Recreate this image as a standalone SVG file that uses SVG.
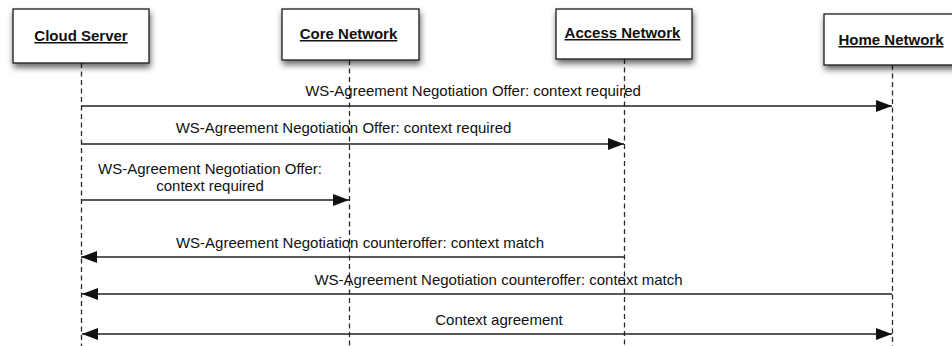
<svg xmlns="http://www.w3.org/2000/svg" width="952" height="346" viewBox="0 0 952 346">
  <style>
    .box { fill: #ffffff; stroke: #1a1a1a; stroke-width: 1.3; }
    .title { font-family: "Liberation Sans", Arial, sans-serif; font-size: 15px; font-weight: bold; text-decoration: underline; fill: #111111; text-anchor: middle; }
    .life { stroke: #2a2a2a; stroke-width: 1.3; stroke-dasharray: 5 3.5; fill: none; }
    .msg { stroke: #222222; stroke-width: 1.3; fill: none; }
    .label { font-family: "Liberation Sans", Arial, sans-serif; font-size: 15px; fill: #111111; text-anchor: middle; }
  </style>
  <defs>
    <filter id="shadow" x="-20%" y="-30%" width="140%" height="170%">
      <feGaussianBlur in="SourceAlpha" stdDeviation="3"/>
      <feOffset dx="1" dy="4" result="blurred"/>
      <feComponentTransfer>
        <feFuncA type="linear" slope="0.6"/>
      </feComponentTransfer>
      <feMerge>
        <feMergeNode/>
        <feMergeNode in="SourceGraphic"/>
      </feMerge>
    </filter>
    <marker id="head" viewBox="0 0 16 12" refX="16" refY="6" markerWidth="16" markerHeight="12" markerUnits="userSpaceOnUse" orient="auto-start-reverse">
      <path d="M0,0 L16,6 L0,12 z" fill="#111111"/>
    </marker>
  </defs>

  <rect width="952" height="346" fill="#ffffff"/>

  <!-- lifelines -->
  <g id="lifelines">
    <line class="life" x1="81.5" y1="63" x2="81.5" y2="346"/>
    <line class="life" x1="349.5" y1="60" x2="349.5" y2="346"/>
    <line class="life" x1="624.5" y1="59" x2="624.5" y2="346"/>
    <line class="life" x1="892.5" y1="65" x2="892.5" y2="346"/>
  </g>

  <!-- participants -->
  <g id="cloud-server">
    <rect class="box" x="13" y="9" width="136" height="54" filter="url(#shadow)"/>
    <text class="title" x="81" y="41">Cloud Server</text>
  </g>
  <g id="core-network">
    <rect class="box" x="282" y="9" width="137" height="51" filter="url(#shadow)"/>
    <text class="title" x="348.5" y="39">Core Network</text>
  </g>
  <g id="access-network">
    <rect class="box" x="556" y="9" width="136" height="50" filter="url(#shadow)"/>
    <text class="title" x="622.5" y="38">Access Network</text>
  </g>
  <g id="home-network">
    <rect class="box" x="824" y="14" width="136" height="51" filter="url(#shadow)"/>
    <text class="title" x="891" y="45">Home Network</text>
  </g>

  <!-- messages -->
  <g id="connectors">
    <line class="msg" x1="81" y1="106" x2="892" y2="106" marker-end="url(#head)"/>
    <text class="label" x="473" y="96">WS-Agreement Negotiation Offer: context required</text>

    <line class="msg" x1="81" y1="144" x2="624" y2="144" marker-end="url(#head)"/>
    <text class="label" x="343.5" y="133">WS-Agreement Negotiation Offer: context required</text>

    <line class="msg" x1="81" y1="200" x2="349" y2="200" marker-end="url(#head)"/>
    <text class="label" x="210" y="174">WS-Agreement Negotiation Offer:</text>
    <text class="label" x="210" y="191">context required</text>

    <line class="msg" x1="624" y1="257" x2="81" y2="257" marker-end="url(#head)"/>
    <text class="label" x="360" y="248">WS-Agreement Negotiation counteroffer: context match</text>

    <line class="msg" x1="892" y1="294" x2="82" y2="294" marker-end="url(#head)"/>
    <text class="label" x="498.5" y="285">WS-Agreement Negotiation counteroffer: context match</text>

    <line class="msg" x1="82" y1="334" x2="892" y2="334" marker-start="url(#head)" marker-end="url(#head)"/>
    <text class="label" x="499" y="325">Context agreement</text>
  </g>
</svg>
